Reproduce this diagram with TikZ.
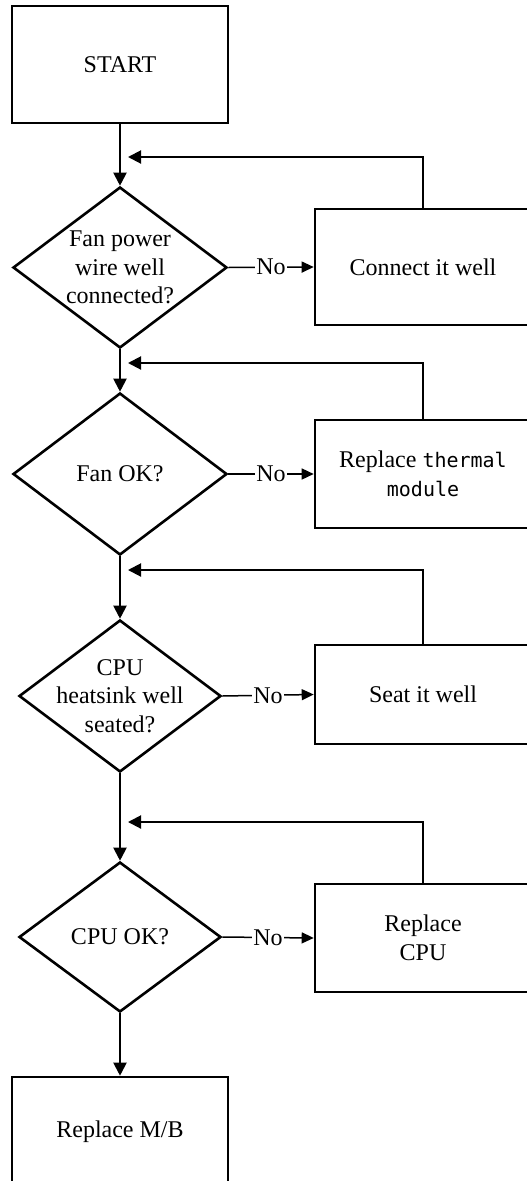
\documentclass[tikz,border=0pt]{standalone}
\usepackage{fontspec}
\setmainfont{Liberation Serif}
\newfontfamily\monofont{DejaVu Sans Mono}
\usetikzlibrary{shapes.geometric,arrows.meta}
\tikzset{
  box/.style={draw, line width=2.6pt, rectangle, inner sep=0pt},
  dia/.style={draw, line width=2.6pt, diamond, inner sep=0pt},
  flow/.style={line width=2pt, -{Triangle[length=13pt,width=13pt]}},
  noflow/.style={line width=1.5pt, -{Triangle[length=12pt,width=11pt]}},
  nolab/.style={fill=white, inner sep=1pt},
  txt/.style={align=center},
}
\begin{document}
\begin{tikzpicture}[x=1pt,y=-1pt,font=\fontsize{24}{28.7}\selectfont]
\clip (0,0) rectangle (527,1181);
\useasboundingbox (0,0) rectangle (527,1181);
% start
\node[box, minimum width=216pt, minimum height=117pt] (start) at (120,64.5) {};
\node[txt] (startt) at (start) {START};
% diamonds
\node[dia, minimum width=214pt, minimum height=161pt] (d1) at (120,267.5) {};
\node[txt] (d1t) at (d1) {Fan power\\wire well\\connected?};
\node[dia, minimum width=214pt, minimum height=162pt] (d2) at (120,474) {};
\node[txt] (d2t) at (d2) {Fan OK?};
\node[dia, minimum width=202pt, minimum height=152pt] (d3) at (120,696) {};
\node[txt] (d3t) at (d3) {CPU\\heatsink well\\seated?};
\node[dia, minimum width=202pt, minimum height=150pt] (d4) at (120,937) {};
\node[txt] (d4t) at (d4) {CPU OK?};
% right boxes
\node[box, minimum width=216pt, minimum height=116pt] (b1) at (423,267) {};
\node[txt] (b1t) at (b1) {Connect it well};
\node[box, minimum width=216pt, minimum height=108pt] (b2) at (423,474) {};
\node[txt] (b2t) at (b2) {Replace {\monofont\fontsize{20}{28.7}\selectfont thermal}\\{\monofont\fontsize{20}{28.7}\selectfont module}};
\node[box, minimum width=216pt, minimum height=99pt] (b3) at (423,694.5) {};
\node[txt] (b3t) at (b3) {Seat it well};
\node[box, minimum width=216pt, minimum height=108pt] (b4) at (423,938) {};
\node[txt] (b4t) at (b4) {Replace\\CPU};
% final
\node[box, minimum width=216pt, minimum height=117pt] (fin) at (120,1135.5) {};
\node[txt] (fint) at (120,1132) {Replace M/B};
% feedback coordinates
\coordinate (f1) at (128,157);
\coordinate (f2) at (128,363);
\coordinate (f3) at (128,570);
\coordinate (f4) at (128,822);
% main flow
\draw[flow] (start.south) -- (d1.north);
\draw[flow] (d1.south) -- (d2.north);
\draw[flow] (d2.south) -- (d3.north);
\draw[flow] (d3.south) -- (d4.north);
\draw[flow] (d4.south) -- (fin.north);
% No branches
\draw[noflow] (d1.east) -- node[nolab] (n1) {No} (b1.west);
\draw[noflow] (d2.east) -- node[nolab] (n2) {No} (b2.west);
\draw[noflow] (d3.east) -- node[nolab] (n3) {No} (b3.west);
\draw[noflow] (d4.east) -- node[nolab] (n4) {No} (b4.west);
% feedback
\draw[flow] (b1.north) |- (f1);
\draw[flow] (b2.north) |- (f2);
\draw[flow] (b3.north) |- (f3);
\draw[flow] (b4.north) |- (f4);
\end{tikzpicture}
\end{document}
